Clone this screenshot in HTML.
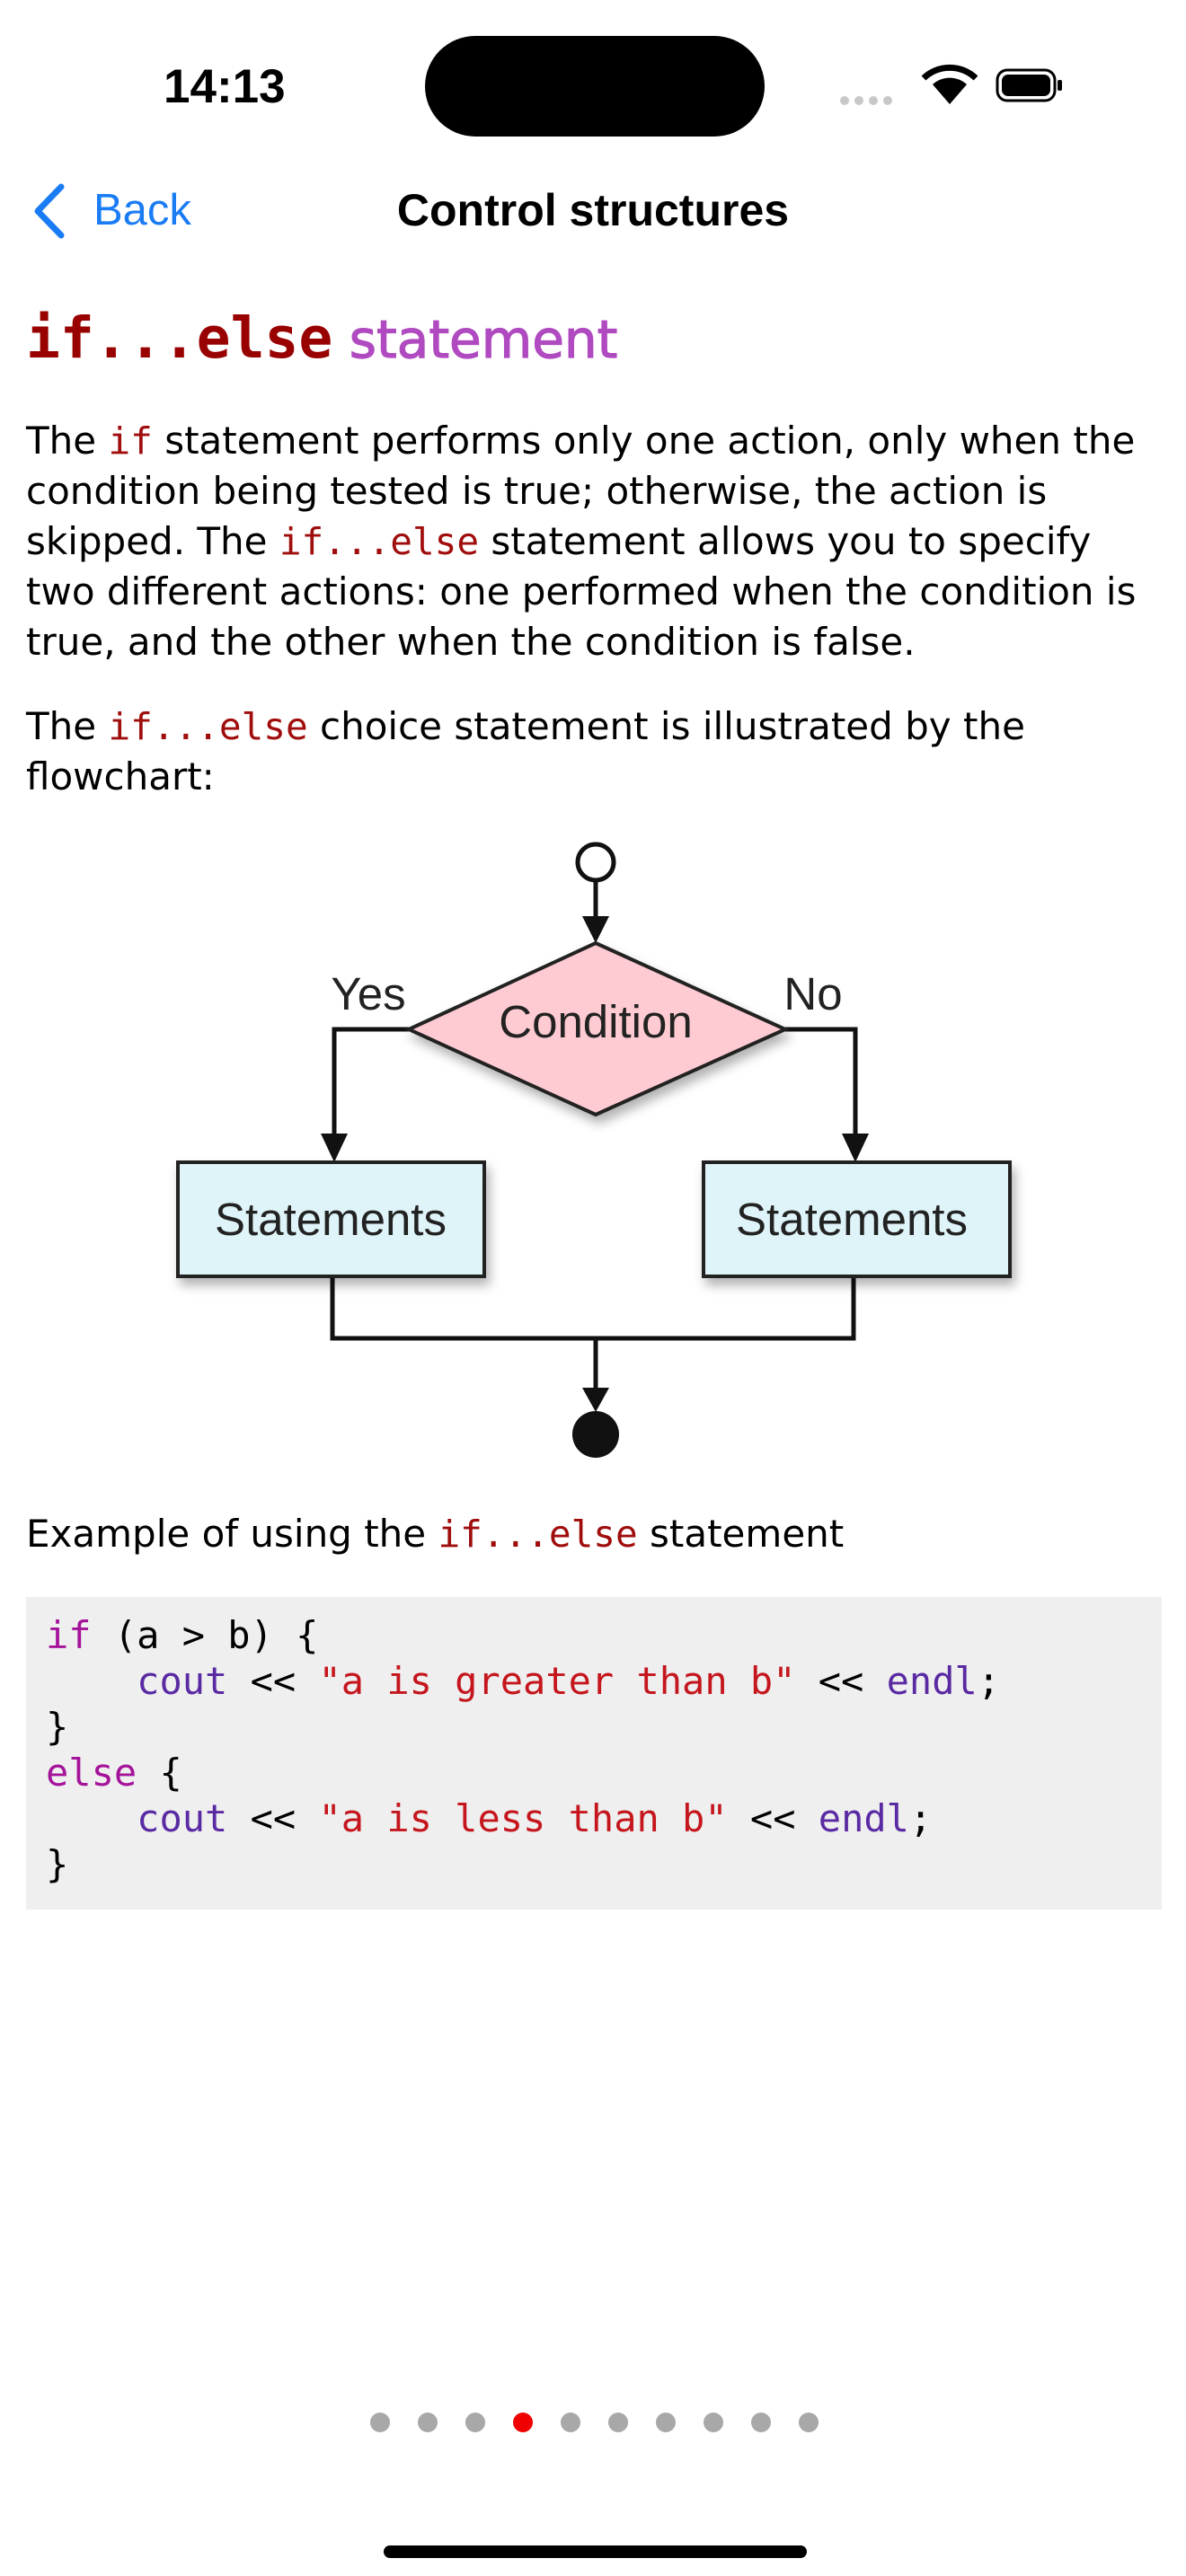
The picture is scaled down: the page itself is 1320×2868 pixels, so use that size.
<!DOCTYPE html>
<html><head><meta charset="utf-8"><style>
html,body{margin:0;padding:0;background:#fff;}
body{width:1320px;height:2868px;position:relative;overflow:hidden;font-family:"DejaVu Sans","Liberation Sans",sans-serif;}
.a{position:absolute;white-space:nowrap;}
.p{font-size:42px;color:#000;left:29px;line-height:56px;}
.m{font-family:"DejaVu Sans Mono","Liberation Mono",monospace;color:#a00d0d;font-size:41px;}
.code{position:absolute;left:29px;top:1778px;width:1264px;height:348px;background:#efefef;}
.cl{position:absolute;left:22px;font-family:"DejaVu Sans Mono","Liberation Mono",monospace;font-size:42px;white-space:pre;color:#000;}
.k{color:#a5139a}.o{color:#5a2aa3}.s{color:#c5161d}
</style></head><body>
<div class="a" style="left:182px;top:66px;font-family:'Liberation Sans',sans-serif;font-weight:bold;font-size:53px;">14:13</div>
<div class="a" style="left:473px;top:40px;width:378px;height:112px;border-radius:56px;background:#000;"></div>
<svg class="a" style="left:930px;top:70px" width="280" height="60" viewBox="0 0 280 60">
<g fill="#c8c8c8"><circle cx="10" cy="42" r="5"/><circle cx="26" cy="42" r="5"/><circle cx="42" cy="42" r="5"/><circle cx="58" cy="42" r="5"/></g>
<path d="M127 46 L108 24 A28 28 0 0 1 146 24 Z" fill="#000"/>
<path d="M98 17 A42 42 0 0 1 156 17" stroke="#000" stroke-width="7" fill="none"/>
<rect x="180" y="8" width="64" height="34" rx="11" fill="none" stroke="#000" stroke-width="3"/>
<rect x="185" y="13" width="54" height="24" rx="7" fill="#000"/>
<rect x="247" y="19" width="5" height="12" rx="2" fill="#000"/>
</svg>
<svg class="a" style="left:30px;top:200px" width="50" height="70"><path d="M38 8 L12 35 L38 62" stroke="#1a7cf5" stroke-width="7" fill="none" stroke-linecap="round" stroke-linejoin="round"/></svg>
<div class="a" style="left:104px;top:206px;font-family:'Liberation Sans',sans-serif;font-size:49px;color:#1a7cf5;">Back</div>
<div class="a" style="left:0;width:1320px;text-align:center;top:205px;font-family:'Liberation Sans',sans-serif;font-size:50px;font-weight:bold;">Control structures</div>

<div class="a" style="left:29px;top:340px;"><span style="font-family:'DejaVu Sans Mono',monospace;font-weight:bold;font-size:63px;color:#990000;">if...else</span><span style="font-size:58px;color:#b04ac0;-webkit-text-stroke:1.2px #b04ac0;"> statement</span></div>

<div class="a p" style="top:463px;">The <span class="m">if</span> statement performs only one action, only when the</div>
<div class="a p" style="top:519px;">condition being tested is true; otherwise, the action is</div>
<div class="a p" style="top:575px;">skipped. The <span class="m">if...else</span> statement allows you to specify</div>
<div class="a p" style="top:631px;">two different actions: one performed when the condition is</div>
<div class="a p" style="top:687px;">true, and the other when the condition is false.</div>
<div class="a p" style="top:781px;">The <span class="m">if...else</span> choice statement is illustrated by the</div>
<div class="a p" style="top:837px;">flowchart:</div>

<svg class="a" style="left:0;top:900px" width="1320" height="740" viewBox="0 900 1320 740">
<defs><filter id="sh" x="-20%" y="-20%" width="140%" height="150%"><feDropShadow dx="4" dy="8" stdDeviation="6" flood-color="#000" flood-opacity="0.3"/></filter></defs>
<g stroke="#111" stroke-width="5" fill="none">
<circle cx="663" cy="960" r="20"/>
<line x1="663" y1="980" x2="663" y2="1025"/>
<polyline points="455,1146 372,1146 372,1262"/>
<polyline points="874,1146 952,1146 952,1262"/>
<polyline points="370,1421 370,1490 950,1490 950,1421"/>
<line x1="663" y1="1490" x2="663" y2="1550"/>
</g>
<g fill="#111">
<polygon points="648,1020 678,1020 663,1050"/>
<polygon points="357,1262 387,1262 372,1294"/>
<polygon points="937,1262 967,1262 952,1294"/>
<polygon points="648,1545 678,1545 663,1572"/>
<circle cx="663" cy="1597" r="26"/>
</g>
<polygon points="663,1050 874,1146 663,1241 455,1146" fill="#fdcbd1" stroke="#222" stroke-width="4" filter="url(#sh)"/>
<rect x="198" y="1294" width="341" height="127" fill="#dff4f8" stroke="#222" stroke-width="4" filter="url(#sh)"/>
<rect x="783" y="1294" width="341" height="127" fill="#dff4f8" stroke="#222" stroke-width="4" filter="url(#sh)"/>
<g font-family="Liberation Sans, sans-serif" font-size="51" fill="#222" text-anchor="middle">
<text x="663" y="1155">Condition</text>
<text x="368" y="1375">Statements</text>
<text x="948" y="1375">Statements</text>
<text x="410" y="1124">Yes</text>
<text x="905" y="1124">No</text>
</g>
</svg>

<div class="a p" style="top:1680px;">Example of using the <span class="m">if...else</span> statement</div>

<div class="code">
<div class="cl" style="top:18px;"><span class="k">if</span> (a &gt; b) {</div>
<div class="cl" style="top:69px;">    <span class="o">cout</span> &lt;&lt; <span class="s">"a is greater than b"</span> &lt;&lt; <span class="o">endl</span>;</div>
<div class="cl" style="top:120px;">}</div>
<div class="cl" style="top:171px;"><span class="k">else</span> {</div>
<div class="cl" style="top:222px;">    <span class="o">cout</span> &lt;&lt; <span class="s">"a is less than b"</span> &lt;&lt; <span class="o">endl</span>;</div>
<div class="cl" style="top:273px;">}</div>
</div>

<svg class="a" style="left:0;top:2670px" width="1320" height="60">
<g fill="#a8a8a8">
<circle cx="423" cy="27" r="11"/><circle cx="476" cy="27" r="11"/><circle cx="529" cy="27" r="11"/>
<circle cx="635" cy="27" r="11"/><circle cx="688" cy="27" r="11"/><circle cx="741" cy="27" r="11"/><circle cx="794" cy="27" r="11"/><circle cx="847" cy="27" r="11"/><circle cx="900" cy="27" r="11"/>
</g>
<circle cx="582" cy="27" r="11" fill="#f00000"/>
</svg>
<div class="a" style="left:427px;top:2834px;width:471px;height:14px;border-radius:7px;background:#000;"></div>
</body></html>
